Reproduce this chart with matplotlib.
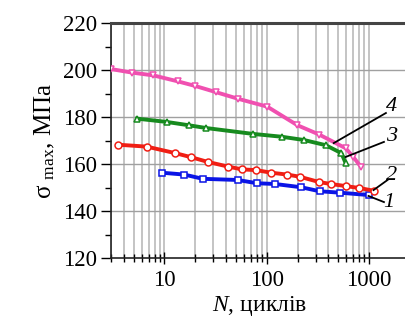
import numpy as np
import matplotlib
matplotlib.use('Agg')
import matplotlib.pyplot as plt
from matplotlib.ticker import FixedLocator, NullFormatter, MultipleLocator

plt.rcParams['font.family'] = ['Liberation Serif', 'DejaVu Serif']
plt.rcParams['mathtext.fontset'] = 'custom'
plt.rcParams['mathtext.rm'] = 'Liberation Serif'
plt.rcParams['mathtext.it'] = 'Liberation Serif:italic'

# curve 1 (blue, squares)
n1 = [9.4, 15.6, 23.6, 52, 80.5, 120, 217, 329, 516, 986]
s1 = [156.3, 155.5, 153.7, 153.2, 151.8, 151.5, 150.1, 148.4, 147.8, 146.8]
# curve 2 (red, circles)
n2 = [3.54, 6.7, 12.8, 18.2, 26.4, 41.8, 57.4, 78.7, 110, 158, 209, 326, 422, 591, 798, 1120]
s2 = [168.2, 167.4, 164.6, 162.9, 160.9, 158.9, 157.7, 157.4, 156.3, 155.5, 154.6,
      152.3, 151.5, 150.6, 149.8, 148.6]
# curve 3 (green, up triangles)
n3 = [5.4, 10.5, 17.2, 25.6, 73.5, 140, 231, 377, 536, 590]
s3 = [179.3, 177.9, 176.5, 175.3, 172.8, 171.6, 170.2, 168.0, 164.6, 160.3]
# curve 4 (pink, down triangles)
n4 = [3.0, 4.8, 7.8, 13.4, 20, 31.7, 52, 101, 199, 326, 590, 697, 828]
s4 = [200.4, 198.9, 197.7, 195.2, 193.2, 190.6, 187.8, 184.4, 176.5, 172.5, 166.7,
      163.1, 158.9]

# curve numbers: text, leader start (N, sigma), leader end (N, sigma), text position
curve_ids = ['4', '3', '2', '1']
lead_start = [(451, 168.9), (590, 163.0), (1104, 148.9), (986, 146.4)]
lead_end = [(1459, 181.7), (1396, 169.4), (1514, 153.2), (1396, 143.8)]
id_pos = [(1640, 184.3), (1640, 171.5), (1640, 155.3), (1560, 143.5)]

fig = plt.figure(figsize=(4.06, 3.24), dpi=100)
ax = fig.add_axes([111 / 406, 1 - 258 / 324, 1 - 111 / 406 + 0.005, (258 - 23) / 324])

ax.set_xscale('log')
ax.set_xlim(3, 2400)
ax.set_ylim(120, 220)

# grid: only up to 1000 on x
minor_x = [m * 10 ** e for e in range(0, 3) for m in range(2, 10) if m * 10 ** e >= 3]
major_x = [10, 100, 1000]
for v in minor_x + major_x:
    ax.axvline(v, color='#b4b4b4', lw=1.1, zorder=0)
for v in range(140, 220, 20):
    ax.axhline(v, color='#a0a0a0', lw=1.0, zorder=0)

ax.xaxis.set_major_locator(FixedLocator(major_x))
ax.xaxis.set_minor_locator(FixedLocator(minor_x))
ax.xaxis.set_minor_formatter(NullFormatter())
ax.set_xticklabels(['10', '100', '1000'])
ax.yaxis.set_major_locator(MultipleLocator(20))
ax.yaxis.set_minor_locator(MultipleLocator(10))

ax.tick_params(axis='x', which='major', direction='inout', length=9, width=1, labelsize=16.5, pad=4)
ax.tick_params(axis='x', which='minor', direction='inout', length=6, width=1)
ax.tick_params(axis='y', which='major', direction='out', length=7, width=1, labelsize=16.5, pad=3)
ax.tick_params(axis='y', which='minor', direction='out', length=4, width=1)

for sp in ['left', 'bottom']:
    ax.spines[sp].set_linewidth(1.2)
    ax.spines[sp].set_color('#222222')
ax.spines['top'].set_linewidth(2.2)
ax.spines['top'].set_color('#444444')
ax.spines['right'].set_visible(False)

ms = 5
ax.plot(n1, s1, color='#0a14e6', lw=2.8, marker='s', ms=ms, mfc='white', mec='#0a14e6', mew=1.1, zorder=3)
ax.plot(n2, s2, color='#f01e14', lw=2.8, marker='o', ms=ms, mfc='white', mec='#f01e14', mew=1.1, zorder=3)
ax.plot(n3, s3, color='#168a1e', lw=2.8, marker='^', ms=ms, mfc='white', mec='#168a1e', mew=1.1, zorder=4)
ax.plot(n4, s4, color='#f050b0', lw=2.8, marker='v', ms=ms, mfc='white', mec='#f050b0', mew=1.1, zorder=3)

for txt, (x0, y0), (x1, y1), (tx, ty) in zip(curve_ids, lead_start, lead_end, id_pos):
    ax.plot([x0, x1], [y0, y1], color='black', lw=1.3, zorder=5, clip_on=False)
    ax.text(tx, ty, txt, fontsize=16, style='italic', ha='center', va='center', zorder=6)

ax.set_ylabel(r'σ $_{\mathrm{max}}$, МПа', fontsize=18, labelpad=4)
ax.set_xlabel(r'$N$, циклів', fontsize=17, labelpad=2)

fig.savefig('out.png', dpi=100)
